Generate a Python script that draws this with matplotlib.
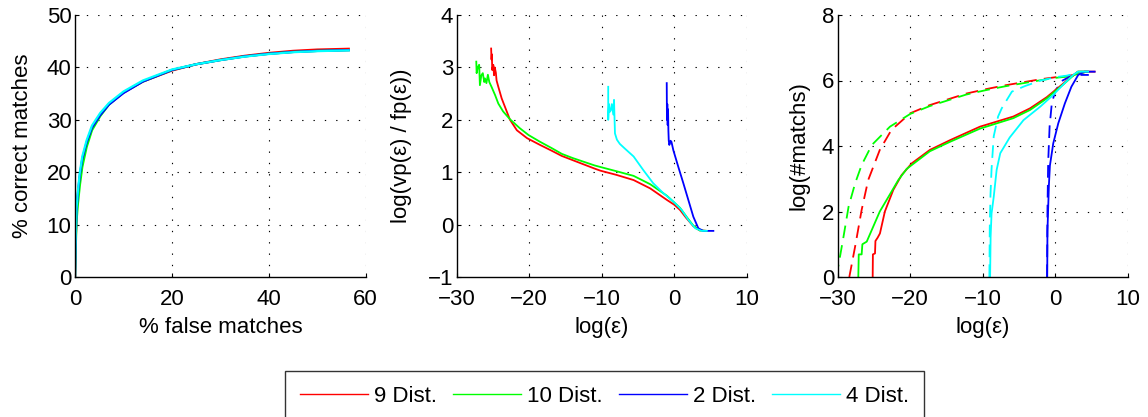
import matplotlib
matplotlib.use("Agg")
import matplotlib.pyplot as plt
from matplotlib.lines import Line2D

plt.rcParams['font.family'] = ['Liberation Sans', 'DejaVu Sans']
plt.rcParams['axes.unicode_minus'] = True

# ---------------- data ----------------
series_names = ["9 Dist.", "10 Dist.", "2 Dist.", "4 Dist."]
series_colors = ["#ff0000", "#00ff00", "#0000ff", "#00ffff"]

# Panel 1: % correct matches vs % false matches
p1_x = [0, 0.1, 0.3, 0.6, 1.0, 1.5, 2.4, 3.5, 5.2, 7, 10, 14, 20, 25, 30, 35, 40, 45, 50, 56.5]
p1_red = [0, 5, 12, 15.5, 19, 22, 25.5, 28.4, 31, 33, 35.2, 37.3, 39.4, 40.6, 41.5, 42.2, 42.75, 43.15, 43.4, 43.55]
p1_green = [0, 4, 10.5, 14, 17.5, 21, 24.8, 28.0, 30.7, 32.9, 35.2, 37.3, 39.5, 40.6, 41.4, 42.1, 42.6, 42.95, 43.15, 43.3]
p1_blue = [0, 5.5, 12.5, 16, 19.5, 22.5, 25.7, 28.5, 30.9, 32.9, 35.1, 37.3, 39.5, 40.6, 41.4, 42.1, 42.6, 42.95, 43.15, 43.3]
p1_cyan = [0, 6, 13, 16.5, 20, 23, 26.1, 28.9, 31.3, 33.2, 35.4, 37.5, 39.6, 40.6, 41.4, 42.05, 42.55, 42.9, 43.1, 43.25]

# Panel 2: log(vp/fp) vs log(eps)
p2_red_x = [-25.25, -25.2, -25.15, -25.1, -24.95, -24.85, -24.75, -24.6, -24.5, -24.26, -23.8, -23.1, -22.65,
            -21.7, -20.3, -18.5, -16.9, -15.5, -14, -12.5, -11, -10.2, -8, -5.6, -3.3, -1.0, 0, 0.8, 1.7,
            2.64, 3.5, 4.5]
p2_red_y = [3.36, 3.15, 3.25, 2.95, 3.05, 2.85, 3.0, 2.9, 2.75, 2.63, 2.41, 2.16, 2.0,
            1.8, 1.65, 1.52, 1.41, 1.31, 1.23, 1.15, 1.07, 1.03, 0.95, 0.85, 0.69, 0.47, 0.38, 0.28, 0.12,
            -0.03, -0.11, -0.12]
p2_green_x = [-27.3, -27.25, -27.1, -26.9, -26.8, -26.6, -26.4, -26.2, -26.1, -25.9, -25.7, -25.5, -25.2, -24.7,
              -24.26, -23.6, -22.65, -21.3, -20.1, -18.5, -16.9, -15.5, -14, -12.5, -11, -10.2, -8, -5.6,
              -3.3, -1.0, 0.8, 1.7, 2.64, 3.5, 4.5]
p2_green_y = [3.11, 2.89, 3.0, 3.05, 2.66, 2.85, 2.89, 2.72, 2.79, 2.70, 2.86, 2.72, 2.63, 2.47,
              2.31, 2.16, 2.01, 1.84, 1.71, 1.58, 1.46, 1.35, 1.27, 1.2, 1.13, 1.1, 1.02, 0.93,
              0.77, 0.55, 0.32, 0.15, -0.02, -0.11, -0.12]
p2_blue_x = [-1.03, -1.0, -0.95, -0.9, -0.85, -0.8, -0.75, -0.67, -0.5, -0.38, -0.12, 0.57, 1.26, 1.95, 2.64,
             3.33, 4.0, 5.4]
p2_blue_y = [2.70, 2.0, 2.3, 1.9, 2.2, 1.79, 1.6, 1.52, 1.6, 1.58, 1.42, 1.10, 0.79, 0.47, 0.15,
             -0.07, -0.12, -0.12]
p2_cyan_x = [-9.1, -9.1, -9.0, -8.9, -8.75, -8.6, -8.4, -8.3, -8.25, -8.17, -7.9, -7.5, -6.8, -5.6, -4.26,
             -2.9, -1.5, -0.12, 1.03, 1.95, 2.9, 3.8, 4.5]
p2_cyan_y = [2.63, 2.0, 2.3, 2.15, 2.18, 2.3, 2.1, 2.38, 2.12, 1.74, 1.62, 1.54, 1.45, 1.30, 1.04,
             0.79, 0.60, 0.44, 0.28, 0.09, -0.07, -0.12, -0.12]

# Panel 3: log(#matchs) vs log(eps), solid and dashed
p3_red_x = [-25.18, -25.15, -24.86, -24.8, -24.5, -24.18, -23.5, -22.34, -21.2, -19.8, -17.3, -14.5, -10.4,
            -5.8, -3.5, -1.2, 0, 1.1, 2.2, 3.1, 5.4]
p3_red_y = [0, 0.69, 0.72, 1.1, 1.2, 1.33, 2.0, 2.66, 3.11, 3.47, 3.88, 4.18, 4.59,
            4.9, 5.15, 5.49, 5.71, 5.91, 6.12, 6.27, 6.27]
p3_green_x = [-27.16, -27.1, -26.7, -26.6, -26.0, -25.1, -24.2, -23.0, -21.65, -20.5, -17.3, -14.5, -10.4,
              -5.8, -3.5, -1.2, 0, 1.1, 2.2, 3.1, 4.5]
p3_green_y = [0, 0.69, 0.69, 1.0, 1.08, 1.54, 2.0, 2.45, 2.96, 3.3, 3.84, 4.13, 4.53,
              4.85, 5.1, 5.45, 5.68, 5.88, 6.1, 6.27, 6.27]
p3_blue_x = [-1.13, -1.1, -0.9, -0.76, -0.3, 0.39, 1.3, 2.2, 3.14, 4.0, 5.4]
p3_blue_y = [0, 1.4, 2.8, 3.4, 4.08, 4.69, 5.3, 5.81, 6.17, 6.27, 6.27]
p3_cyan_x = [-9.0, -8.93, -8.8, -8.5, -8.1, -7.6, -6.3, -4.4, -2.1, -0.3, 1.0, 2.45, 3.1, 4.5]
p3_cyan_y = [0, 1.23, 1.94, 2.45, 3.27, 3.78, 4.26, 4.79, 5.2, 5.56, 5.86, 6.17, 6.27, 6.27]

p3_red_dash_x = [-28.4, -27.6, -26.7, -25.8, -24.2, -22.6, -20, -17.3, -12.3, -9.7, -7, -2, 0, 1.6, 3, 4.0]
p3_red_dash_y = [0, 0.93, 2.05, 2.96, 3.88, 4.49, 5.0, 5.25, 5.6, 5.73, 5.85, 6.04, 6.1, 6.13, 6.2, 6.25]
p3_green_dash_x = [-30.3, -29.9, -29.2, -28.5, -27.6, -26.7, -25.3, -22.8, -20, -17.3, -12.3, -9.7, -7, -2, 0,
                   1.6, 3, 4.0]
p3_green_dash_y = [0, 0.35, 1.23, 2.15, 2.86, 3.42, 4.03, 4.59, 4.98, 5.22, 5.57, 5.7, 5.82, 6.01, 6.08,
                   6.12, 6.19, 6.25]
p3_blue_dash_x = [-1.15, -1.1, -1.0, -0.8, -0.5, 0, 1, 2, 3, 4.6]
p3_blue_dash_y = [0, 2, 3.5, 4.6, 5.3, 5.7, 6.0, 6.12, 6.17, 6.17]
p3_cyan_dash_x = [-9.1, -9.05, -8.95, -8.8, -8.5, -7.9, -7.4, -6.0, -4.2, -2, 0, 1.6, 2.5, 3.5, 4.5]
p3_cyan_dash_y = [0, 1.5, 2.5, 3.3, 4.3, 4.9, 5.15, 5.66, 5.83, 6.0, 6.1, 6.15, 6.2, 6.27, 6.27]

# ---------------- figure ----------------
W, H = 1148, 417
fig = plt.figure(figsize=(W / 100, H / 100), dpi=100)

FS = 16
LW = 1.3
axes_px = [(75, 290.7), (456.7, 290.0), (837.7, 290.3)]
top_px, bot_px = 15, 277
axs = []
for (l, w) in axes_px:
    ax = fig.add_axes([l / W, 1 - bot_px / H, w / W, (bot_px - top_px) / H])
    axs.append(ax)

def style(ax, xlim, ylim, xticks, yticks):
    ax.set_xlim(*xlim)
    ax.set_ylim(*ylim)
    ax.set_xticks(xticks)
    ax.set_yticks(yticks)
    for s in ['top', 'right']:
        ax.spines[s].set_visible(False)
    for s in ['left', 'bottom']:
        ax.spines[s].set_linewidth(1.0)
        ax.spines[s].set_color('black')
    ax.tick_params(direction='in', length=3, width=0.8, labelsize=FS, colors='black')
    ax.tick_params(axis='x', pad=8.5)
    ax.tick_params(axis='y', pad=2.5)
    # dotted grid including the limits
    for xv in xticks:
        if xv != xlim[0]:
            ax.axvline(xv, color='black', lw=0.8, ls=(0, (1.2, 9)), zorder=0.5)
    for yv in yticks:
        if yv != ylim[0]:
            ax.axhline(yv, color='black', lw=0.8, ls=(0, (1.2, 9)), zorder=0.5)

# Panel 1
ax = axs[0]
for yv, c in zip([p1_red, p1_green, p1_blue, p1_cyan], series_colors):
    ax.plot(p1_x, yv, color=c, lw=LW + 0.3)
style(ax, (0, 60), (0, 50), [0, 20, 40, 60], [0, 10, 20, 30, 40, 50])
ax.set_xlabel("% false matches", fontsize=FS)
ax.set_ylabel("% correct matches", fontsize=FS)

# Panel 2
ax = axs[1]
ax.plot(p2_red_x, p2_red_y, color=series_colors[0], lw=LW)
ax.plot(p2_green_x, p2_green_y, color=series_colors[1], lw=LW)
ax.plot(p2_blue_x, p2_blue_y, color=series_colors[2], lw=LW)
ax.plot(p2_cyan_x, p2_cyan_y, color=series_colors[3], lw=LW)
style(ax, (-30, 10), (-1, 4), [-30, -20, -10, 0, 10], [-1, 0, 1, 2, 3, 4])
ax.set_xlabel("log(ε)", fontsize=FS)
ax.set_ylabel("log(vp(ε) / fp(ε))", fontsize=FS)

# Panel 3
ax = axs[2]
dash = (0, (7, 4))
ax.plot(p3_red_dash_x, p3_red_dash_y, color=series_colors[0], lw=LW, ls=dash)
ax.plot(p3_green_dash_x, p3_green_dash_y, color=series_colors[1], lw=LW, ls=dash)
ax.plot(p3_blue_dash_x, p3_blue_dash_y, color=series_colors[2], lw=LW, ls=dash)
ax.plot(p3_cyan_dash_x, p3_cyan_dash_y, color=series_colors[3], lw=LW, ls=dash)
ax.plot(p3_red_x, p3_red_y, color=series_colors[0], lw=LW)
ax.plot(p3_green_x, p3_green_y, color=series_colors[1], lw=LW)
ax.plot(p3_blue_x, p3_blue_y, color=series_colors[2], lw=LW)
ax.plot(p3_cyan_x, p3_cyan_y, color=series_colors[3], lw=LW)
style(ax, (-30, 10), (0, 8), [-30, -20, -10, 0, 10], [0, 2, 4, 6, 8])
ax.set_xlabel("log(ε)", fontsize=FS)
ax.set_ylabel("log(#matchs)", fontsize=FS)

# label positions (baseline placement)
xlab_y = (bot_px - 333) / (bot_px - top_px)
ylab_base = [28.3, 406.7, 804.3]
for ax, (l, w), bx in zip(axs, axes_px, ylab_base):
    ax.xaxis.set_label_coords(0.5, xlab_y)
    ax.xaxis.label.set_va('baseline')
    ax.yaxis.set_label_coords((bx - l) / w, 0.5)
    ax.yaxis.label.set_va('baseline')

# Legend
handles = [Line2D([], [], color=c, lw=1.0) for c in series_colors]
leg = fig.legend(handles, series_names, loc='upper left', bbox_to_anchor=(285 / W, 1 - 371 / H),
                 ncol=4, fontsize=FS, frameon=True, fancybox=False, edgecolor='black',
                 handlelength=3.06, handletextpad=0.27, columnspacing=0.72, borderpad=0.68,
                 borderaxespad=0)
leg.get_frame().set_linewidth(1.0)

fig.savefig("out.png", dpi=100)
